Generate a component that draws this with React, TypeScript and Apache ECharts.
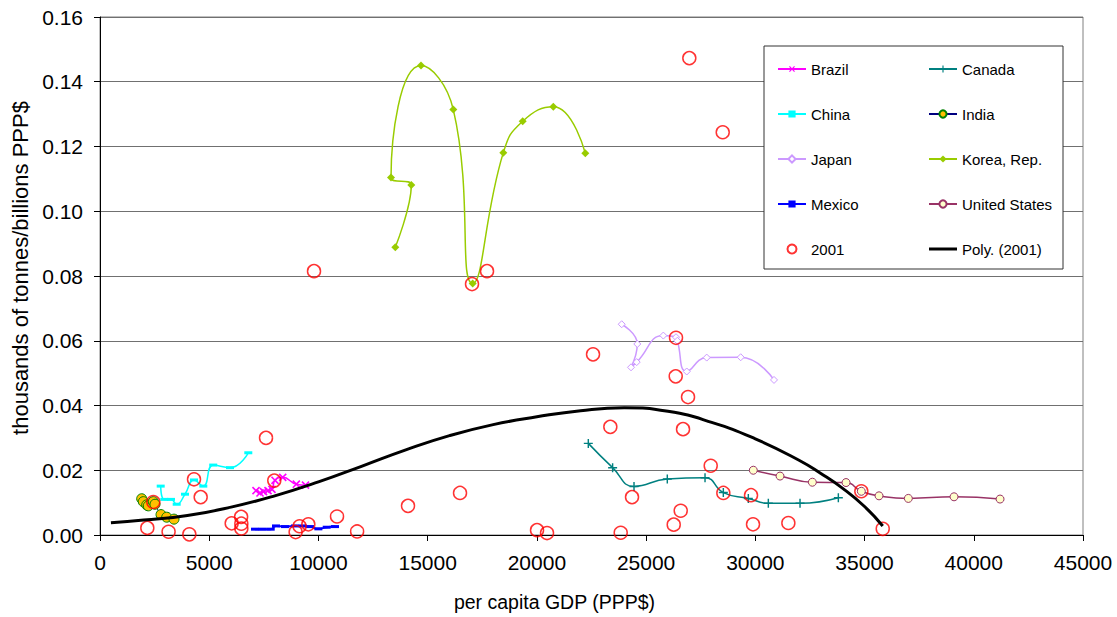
import { useEffect, useRef } from "react";
import * as echarts from "echarts";

// Pollutant intensity vs. per capita GDP, country trajectories and the 2001 cross-section
const brazil = [[7142, 0.0137], [7325, 0.013], [7485, 0.0134], [7691, 0.0137], [7874, 0.0141], [8012, 0.0169], [8364, 0.0178], [8987, 0.0157], [9408, 0.0154]];
const canada = [[22354, 0.0283], [23467, 0.0208], [24446, 0.015], [25970, 0.0173], [27697, 0.0177], [28535, 0.0131], [29679, 0.0113], [30595, 0.0098], [32046, 0.0098], [33800, 0.0115]];
const china = [[2779, 0.0151], [2944, 0.011], [3250, 0.011], [3511, 0.0095], [3891, 0.0126], [4303, 0.017], [4729, 0.0151], [5182, 0.0216], [5951, 0.0208], [6789, 0.0254]];
const india = [[1909, 0.0112], [1984, 0.0103], [2138, 0.0093], [2211, 0.009], [2440, 0.0103], [2518, 0.0095], [2793, 0.0063], [3054, 0.0055], [3388, 0.0049]];
const japan = [[23883, 0.0651], [24597, 0.059], [24309, 0.0518], [24569, 0.0534], [25788, 0.0616], [26369, 0.0611], [26429, 0.06], [26860, 0.0505], [27774, 0.0548], [29330, 0.0549], [30855, 0.0479]];
const korea = [[13519, 0.0889], [14251, 0.1081], [13322, 0.1104], [14695, 0.145], [16174, 0.1314], [17062, 0.0777], [18463, 0.1181], [19351, 0.1278], [20752, 0.1323], [22217, 0.1179]];
const mexico = [[7096, 0.0018], [7449, 0.0018], [7815, 0.0018], [8057, 0.0028], [8469, 0.0026], [8927, 0.0028], [9280, 0.0028], [9614, 0.0026], [9996, 0.0019], [10378, 0.0024], [10758, 0.0026]];
const unitedStates = [[29907, 0.02], [31130, 0.0182], [32610, 0.0163], [34152, 0.0162], [34852, 0.0135], [35662, 0.0121], [37004, 0.0113], [39096, 0.0118], [41202, 0.0111]];
const year2001 = [
  [2166, 0.0022], [2441, 0.0102], [3140, 0.001], [4090, 0.0002], [4303, 0.0172], [4609, 0.0117],
  [6028, 0.0036], [6460, 0.0056], [6470, 0.0035], [6470, 0.002], [7600, 0.03], [7978, 0.0168],
  [8955, 0.0009], [9136, 0.0027], [9537, 0.0033], [9797, 0.0815], [10850, 0.0057], [11770, 0.0011],
  [14100, 0.009], [16481, 0.013], [17030, 0.0775], [17717, 0.0815], [20006, 0.0015], [20464, 0.0006],
  [22570, 0.0558], [23362, 0.0334], [23837, 0.0007], [24355, 0.0117], [26264, 0.0032], [26355, 0.049],
  [26369, 0.0609], [26584, 0.0075], [26690, 0.0327], [26919, 0.0426], [26978, 0.1473], [27957, 0.0214],
  [28507, 0.1244], [28535, 0.013], [29803, 0.0123], [29894, 0.0033], [31512, 0.0037], [34852, 0.0135],
  [35832, 0.0019],
];
// polynomial trend of the 2001 points
const poly2001 = [
  [500, 0.0038], [2000, 0.0046], [4000, 0.006], [6000, 0.0086], [8000, 0.0121], [10000, 0.0164],
  [12000, 0.0213], [14000, 0.0263], [16000, 0.0307], [18000, 0.0341], [20000, 0.0365], [22000, 0.0384],
  [24000, 0.0393], [26000, 0.0382], [28000, 0.0348], [30000, 0.0297], [32000, 0.0231], [33000, 0.019],
  [34000, 0.0144], [35000, 0.0088], [35832, 0.0028],
];
const legendLeft = ["Brazil", "China", "Japan", "Mexico", "2001"];
const legendRight = ["Canada", "India", "Korea, Rep.", "United States", "Poly. (2001)"];

const FONT = '"Liberation Sans", Arial, Helvetica, sans-serif';
const PLUS = "path://M4.2,0H5.8V4.2H10V5.8H5.8V10H4.2V5.8H0V4.2H4.2Z";

function track(name: string, data: number[][], line: string, symbol: string, size: number | number[], itemStyle: any, extra: any = {}) {
  return {
    name,
    type: "line",
    data,
    smooth: 0.5,
    symbol,
    symbolSize: size,
    showSymbol: true,
    lineStyle: { color: line, width: 1.5 },
    itemStyle,
    z: 2,
    ...extra,
  };
}

export default function App() {
  const ref = useRef<HTMLDivElement>(null);

  useEffect(() => {
    if (!ref.current) return;
    const chart = echarts.init(ref.current, undefined, { renderer: "svg" });
    const legendCommon = {
      orient: "vertical",
      top: 60,
      padding: 0,
      itemWidth: 28,
      itemHeight: 9,
      itemGap: 27,
      selectedMode: false,
      textStyle: { fontFamily: FONT, fontSize: 15, lineHeight: 18, color: "#000" },
      z: 10,
    };
    const rightItems = legendRight.map((name) =>
      name === "Poly. (2001)"
        ? { name, icon: "path://M0,0H28V3H0Z", itemStyle: { color: "#000" } }
        : { name }
    );
    chart.setOption({
      animation: false,
      backgroundColor: "#fff",
      textStyle: { fontFamily: FONT },
      grid: { left: 100, right: 34, top: 17, bottom: 82, show: true, borderColor: "#808080", borderWidth: 1 },
      xAxis: {
        type: "value",
        min: 0,
        max: 45000,
        interval: 5000,
        name: "per capita GDP (PPP$)",
        nameLocation: "middle",
        nameGap: 57,
        nameTextStyle: { fontFamily: FONT, fontSize: 19.5, color: "#000", padding: [0, 74, 0, 0] },
        axisLine: { show: true, lineStyle: { color: "#000", width: 1 } },
        axisTick: { show: true, inside: false, length: 6, lineStyle: { color: "#000" } },
        axisLabel: { fontFamily: FONT, fontSize: 21, color: "#000", margin: 17, formatter: (v: number) => String(v) },
        splitLine: { show: false },
      },
      yAxis: {
        type: "value",
        min: 0,
        max: 0.16,
        interval: 0.02,
        name: "thousands of tonnes/billions PPP$",
        nameLocation: "middle",
        nameGap: 66,
        nameTextStyle: { fontFamily: FONT, fontSize: 22, color: "#000", padding: [0, 0, 0, 16] },
        axisLine: { show: true, lineStyle: { color: "#000", width: 1 } },
        axisTick: { show: true, inside: false, length: 6, lineStyle: { color: "#000" } },
        axisLabel: { fontFamily: FONT, fontSize: 21, color: "#000", margin: 17, formatter: (v: number) => v.toFixed(2) },
        splitLine: { show: true, lineStyle: { color: "#707070", width: 1.2 } },
      },
      legend: [
        { ...legendCommon, left: 777, data: legendLeft },
        { ...legendCommon, left: 928, data: rightItems },
      ],
      graphic: [
        {
          type: "rect",
          z: 8,
          shape: { x: 764, y: 46, width: 299, height: 223 },
          style: { fill: "#fff", stroke: "#333", lineWidth: 1 },
        },
      ],
      series: [
        track("Brazil", brazil, "#FF00FF", PLUS, 10, { color: "#FF00FF" }, { symbolRotate: 45 }),
        track("Canada", canada, "#008080", PLUS, 9, { color: "#008080" }),
        track("China", china, "#00FFFF", "rect", [8, 3], { color: "#00FFFF" }),
        track("India", india, "#000080", "circle", 10, { color: "#FFC000", borderColor: "#008000", borderWidth: 1 }, { lineStyle: { color: "#000080", width: 1 } }),
        track("Japan", japan, "#CC99FF", "diamond", 7, { color: "#fff", borderColor: "#CC99FF", borderWidth: 1 }),
        track("Korea, Rep.", korea, "#99CC00", "diamond", 8, { color: "#99CC00" }),
        track("Mexico", mexico, "#0000FF", "rect", [8, 3], { color: "#0000FF" }, { lineStyle: { color: "#0000FF", width: 2 } }),
        track("United States", unitedStates, "#993366", "circle", 8, { color: "#FFFFCC", borderColor: "#993366", borderWidth: 1 }),
        {
          name: "2001",
          type: "scatter",
          data: year2001,
          symbol: "circle",
          symbolSize: 13,
          itemStyle: { color: "rgba(255,255,255,0)", borderColor: "#FF0000", borderWidth: 1.5 },
          z: 3,
        },
        {
          name: "Poly. (2001)",
          type: "line",
          data: poly2001,
          smooth: 0.5,
          symbol: "none",
          showSymbol: false,
          lineStyle: { color: "#000", width: 3 },
          itemStyle: { color: "#000" },
          z: 4,
        },
      ],
    });
    return () => chart.dispose();
  }, []);

  return <div ref={ref} style={{ position: "fixed", left: 0, top: 0, width: 1117, height: 617 }} />;
}
